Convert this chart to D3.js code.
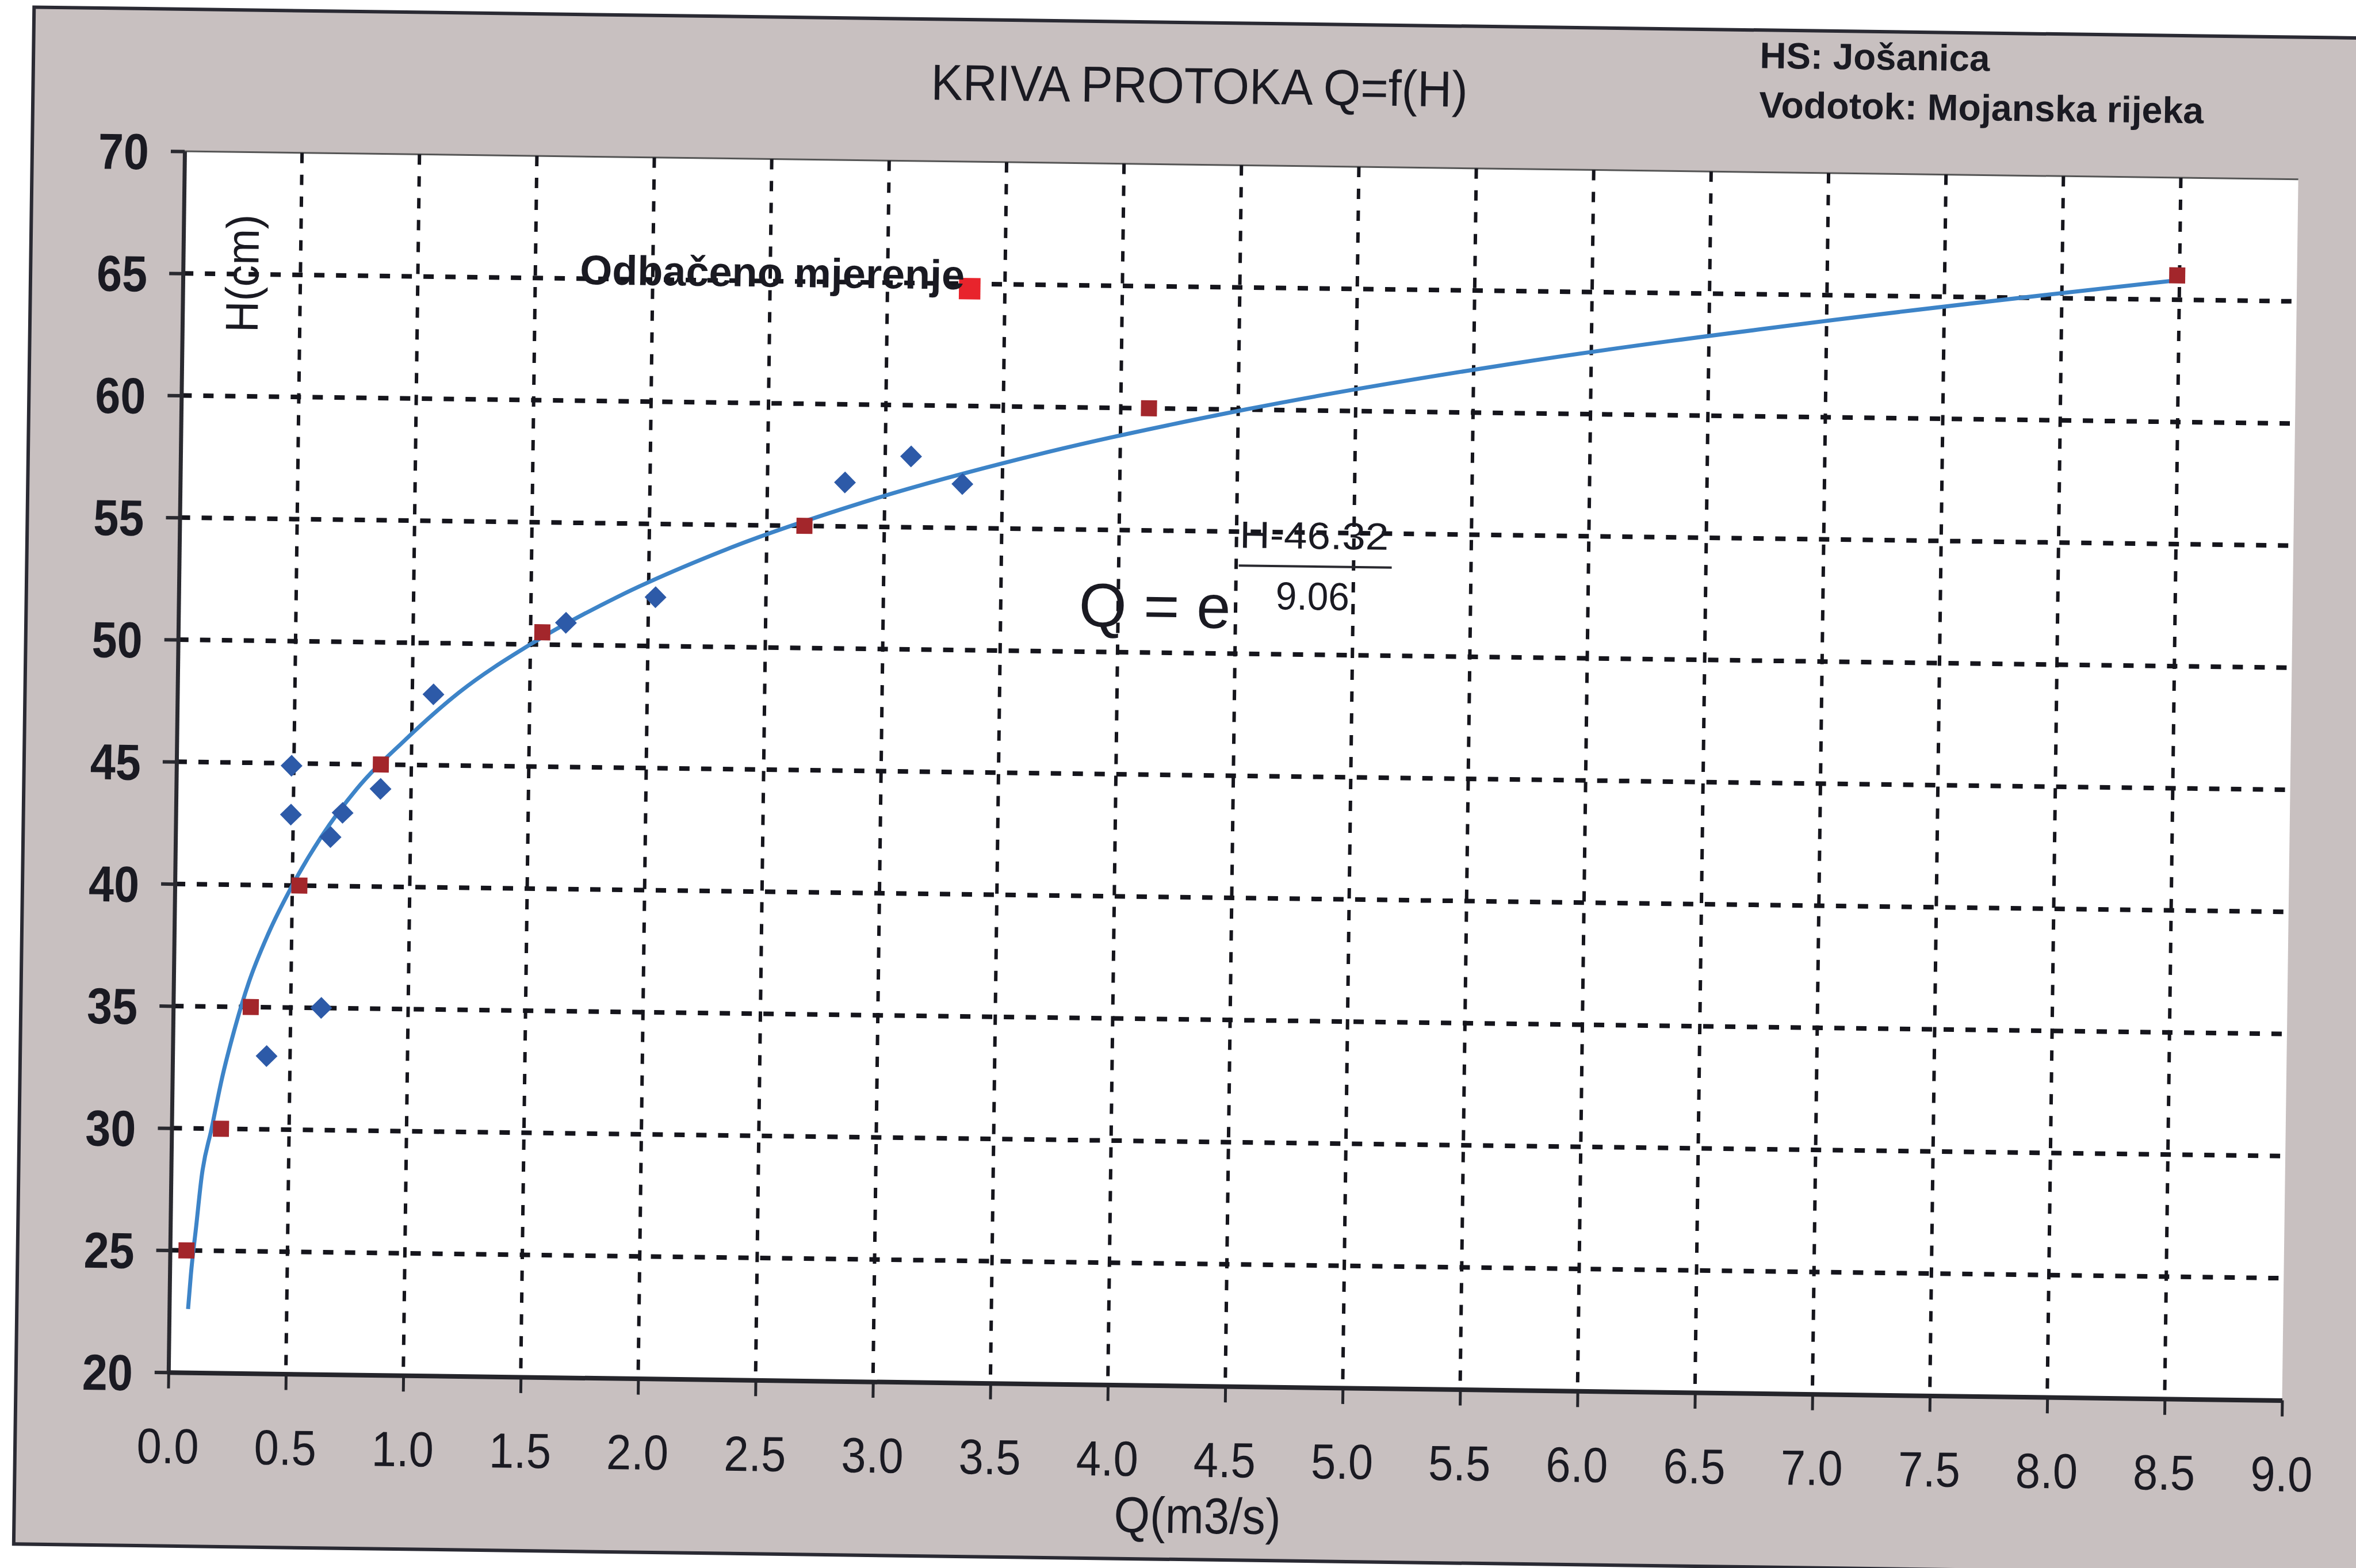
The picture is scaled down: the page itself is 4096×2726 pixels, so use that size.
<!DOCTYPE html>
<html><head><meta charset="utf-8">
<script src="https://cdn.jsdelivr.net/npm/d3@7/dist/d3.min.js"></script>
<style>html,body{margin:0;padding:0;background:#fff;overflow:hidden}</style>
</head><body>
<svg id="c" width="4096" height="2726"></svg>
<script>
// ---- data ----
const qTicks = [0,0.5,1,1.5,2,2.5,3,3.5,4,4.5,5,5.5,6,6.5,7,7.5,8,8.5,9];
const qTickLabels = ["0.0","0.5","1.0","1.5","2.0","2.5","3.0","3.5","4.0","4.5","5.0","5.5","6.0","6.5","7.0","7.5","8.0","8.5","9.0"];
const hTicks = [20,25,30,35,40,45,50,55,60,65,70];
const hTickLabels = ["20","25","30","35","40","45","50","55","60","65","70"];
const qGrid = [0.5,1,1.5,2,2.5,3,3.5,4,4.5,5,5.5,6,6.5,7,7.5,8,8.5];
const hGrid = [25,30,35,40,45,50,55,60,65];

// measured points (blue diamonds)
const measuredQ = [0.40,0.63,0.49,0.49,0.66,0.71,0.87,1.09,1.65,2.03,2.83,3.11,3.33];
const measuredH = [33.0,35.0,42.9,44.9,42.0,43.0,44.0,47.9,50.9,52.0,56.8,57.9,56.8];

// rating-curve points (dark red squares)
const curvePtQ = [0.07,0.21,0.33,0.53,0.87,1.55,2.66,4.12,8.49];
const curvePtH = [25,30,35,40,45,50.5,55,60,66.0];

// rejected measurement
const rejectedQ = [3.35];
const rejectedH = [64.8];

// fitted curve
const lineH = [22.6,24,26,28,30,32,34,36,38,40,42,44,46,48,50,52,54,56,58,60,62,64,65.8];
const lineQ = [0.08,0.09,0.11,0.13,0.17,0.21,0.26,0.32,0.40,0.50,0.62,0.77,0.97,1.20,1.50,1.87,2.33,2.91,3.63,4.53,5.65,7.04,8.49];

const titleText = "KRIVA PROTOKA Q=f(H)";
const stationText = "HS: Jošanica";
const riverText = "Vodotok: Mojanska rijeka";
const xTitle = "Q(m3/s)";
const yTitle = "H(cm)";
const noteText = "Odbačeno mjerenje";

// ---- drawing ----
const FONT = "'Liberation Sans', Arial, sans-serif";
const INK = "#1a1a22";
const svg = d3.select("#c");
const g = svg.append("g").attr("transform","rotate(0.76,324,261)");

// outer gray panel
g.append("rect").attr("x",56).attr("y",16).attr("width",4400).attr("height",2672)
  .attr("fill","#c8c0c0").attr("stroke","#2a2a33").attr("stroke-width",6);

const x = d3.scaleLinear().domain([0,9]).range([321,3996]);
const y = d3.scaleLinear().domain([20,70]).range([2386,263]);

// plot area
g.append("rect").attr("x",x(0)).attr("y",y(70)).attr("width",x(9)-x(0)).attr("height",y(20)-y(70))
  .attr("fill","#ffffff");
g.append("line").attr("x1",x(0)).attr("x2",x(9)).attr("y1",y(70)).attr("y2",y(70))
  .attr("stroke","#555").attr("stroke-width",3);

// grid
g.append("g").selectAll("line").data(qGrid).join("line")
  .attr("x1",d=>x(d)).attr("x2",d=>x(d)).attr("y1",y(70)).attr("y2",y(20))
  .attr("stroke","#15151c").attr("stroke-width",6).attr("stroke-dasharray","18 20");
g.append("g").selectAll("line").data(hGrid).join("line")
  .attr("x1",x(0)).attr("x2",x(9)).attr("y1",d=>y(d)).attr("y2",d=>y(d))
  .attr("stroke","#15151c").attr("stroke-width",8).attr("stroke-dasharray","18 20");

// axes
const yAxis = g.append("g").attr("transform",`translate(${x(0)},0)`)
  .call(d3.axisLeft(y).tickValues(hTicks).tickSize(24).tickSizeOuter(0).tickPadding(38)
        .tickFormat((d,i)=>hTickLabels[i]));
yAxis.select(".domain").attr("stroke","#2a2a30").attr("stroke-width",7);
yAxis.selectAll(".tick line").attr("stroke","#2a2a30").attr("stroke-width",6);
yAxis.selectAll(".tick text").attr("font-family",FONT).attr("font-weight","bold")
  .attr("font-size",88).attr("fill",INK).attr("dy","0.36em")
  .attr("textLength",88).attr("lengthAdjust","spacingAndGlyphs");

const xAxis = g.append("g").attr("transform",`translate(0,${y(20)})`)
  .call(d3.axisBottom(x).tickValues(qTicks).tickSize(28).tickSizeOuter(0).tickPadding(69)
        .tickFormat((d,i)=>qTickLabels[i]));
xAxis.select(".domain").attr("stroke","#25252b").attr("stroke-width",8);
xAxis.selectAll(".tick line").attr("stroke","#25252b").attr("stroke-width",5);
xAxis.selectAll(".tick text").attr("font-family",FONT).attr("font-size",86).attr("fill",INK)
  .attr("textLength",108).attr("lengthAdjust","spacingAndGlyphs");

// curve
const curvePts = lineQ.map((q,i)=>({q, h:lineH[i]}));
g.append("path").datum(curvePts)
  .attr("d", d3.line().x(d=>x(d.q)).y(d=>y(d.h)).curve(d3.curveMonotoneX))
  .attr("fill","none").attr("stroke","#3d84c8").attr("stroke-width",7);

// measured diamonds
const meas = measuredQ.map((q,i)=>({q, h:measuredH[i]}));
g.append("g").selectAll("path").data(meas).join("path")
  .attr("d", d3.symbol(d3.symbolSquare, 720)())
  .attr("transform", d=>`translate(${x(d.q)},${y(d.h)}) rotate(45)`)
  .attr("fill","#2d5aa8");

// curve points squares
const cp = curvePtQ.map((q,i)=>({q, h:curvePtH[i]}));
g.append("g").selectAll("path").data(cp).join("path")
  .attr("d", d3.symbol(d3.symbolSquare, 780)())
  .attr("transform", d=>`translate(${x(d.q)},${y(d.h)})`)
  .attr("fill","#a3262b");

// rejected
const rej = rejectedQ.map((q,i)=>({q, h:rejectedH[i]}));
g.append("g").selectAll("path").data(rej).join("path")
  .attr("d", d3.symbol(d3.symbolSquare, 1400)())
  .attr("transform", d=>`translate(${x(d.q)},${y(d.h)})`)
  .attr("fill","#e8242c");

// texts
function txt(s, xx, yy, size, opts={}) {
  const t = g.append("text").attr("x",xx).attr("y",yy).text(s)
    .attr("font-family",FONT).attr("font-size",size).attr("fill",INK);
  if (opts.bold) t.attr("font-weight","bold");
  if (opts.len) t.attr("textLength",opts.len).attr("lengthAdjust","spacingAndGlyphs");
  if (opts.anchor) t.attr("text-anchor",opts.anchor);
  if (opts.transform) t.attr("transform",opts.transform);
  return t;
}
txt(titleText, 1617, 156, 88, {len:933});
txt(stationText, 3057, 82, 64, {bold:true, len:400});
txt(riverText, 3057, 168, 64, {bold:true, len:773});
txt(yTitle, 0, 0, 80, {anchor:"middle", len:205, transform:"translate(452,474) rotate(-90)"});
txt(xTitle, 1968, 2642, 88, {len:290});
txt(noteText, 1011, 485, 72, {bold:true, len:669});

// equation
txt("Q = e", 1886, 1068, 107, {len:264});
txt("H-46.32", 2164, 928, 66, {len:259});
g.append("line").attr("x1",2163).attr("x2",2429).attr("y1",959).attr("y2",959)
  .attr("stroke","#2a2a30").attr("stroke-width",4);
txt("9.06", 2228, 1034, 68, {len:128});
</script>
</body></html>
